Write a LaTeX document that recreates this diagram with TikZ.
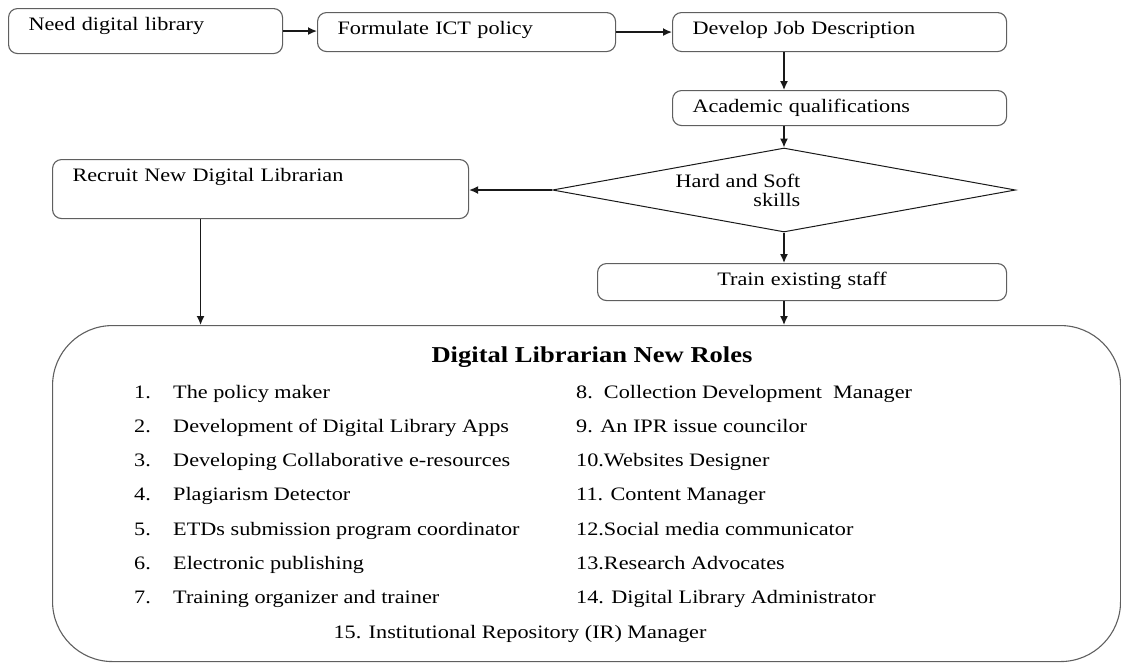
\documentclass[tikz,border=0pt]{standalone}
\usepackage{fontspec}
\setmainfont[FakeStretch=1.17]{Liberation Serif}
\usepackage{tikz}
\usetikzlibrary{shapes.geometric,arrows.meta,calc}
\definecolor{boxgray}{RGB}{95,95,95}
\definecolor{inkblack}{RGB}{25,25,25}

\tikzset{
  flowbox/.style={draw=boxgray, line width=1.1pt, rounded corners=9pt, anchor=north west,
    align=left, inner xsep=20pt, inner ysep=9pt, text height=13pt,
    font=\fontsize{19}{21}\selectfont},
  flowarrow/.style={draw=inkblack, line width=1.4pt, -{Latex[length=9pt,width=8pt]}},
  roleitem/.style={anchor=base west, inner sep=0pt, font=\fontsize{19}{21}\selectfont},
}

\begin{document}
\begin{tikzpicture}[x=1pt, y=-1pt]
    \useasboundingbox (0,0) rectangle (1121,662);

    % Top row
    \node[flowbox, text width=234pt, text depth=14pt] (need) at (8,8) {Need digital library};
    \node[flowbox, text width=258pt, text depth=8pt] (policy) at (317,12) {Formulate ICT policy};
    \node[flowbox, text width=294pt, text depth=8pt] (jobdesc) at (672,12) {Develop Job Description};
    \node[flowbox, text width=294pt, text depth=4pt] (quals) at (672,90) {Academic qualifications};

    % Decision
    \node[draw=inkblack, line width=1pt, diamond, aspect=5.5, minimum width=463pt,
          minimum height=84pt, inner sep=0pt,
          label={[align=right, xshift=-46pt, font=\fontsize{19}{19}\selectfont]center:{Hard and Soft\\skills}}]
          (skills) at (784,190) {};

    % Two ways to fill the post
    \node[flowbox, text width=376pt, text depth=28pt] (recruit) at (52,159) {Recruit New Digital Librarian};
    \node[flowbox, align=center, text width=369pt, text depth=6pt] (train) at (597,263) {Train existing staff};

    % Roles box
    \node[draw=boxgray, line width=1.1pt, rounded corners=60pt, anchor=north west,
          minimum width=1068pt, minimum height=336pt, inner sep=0pt] (roles) at (52,325) {};
    \node[anchor=base, font=\fontsize{22.7}{24}\selectfont\bfseries] (title) at (592,362) {Digital Librarian New Roles};

    \foreach \num/\role [count=\i] in {1/The policy maker, 2/Development of Digital Library Apps,
        3/Developing Collaborative e-resources, 4/Plagiarism Detector,
        5/ETDs submission program coordinator, 6/Electronic publishing,
        7/Training organizer and trainer} {
        \node[roleitem] (num\i) at (134,{363.7+34.3*\i}) {\num.};
        \node[roleitem] (left\i) at (173,{363.7+34.3*\i}) {\role};
    }
    \foreach \role [count=\i] in {8.~~Collection Development~~Manager, 9. An IPR issue councilor,
        10.Websites Designer, 11. Content Manager, 12.Social media communicator,
        13.Research Advocates, 14. Digital Library Administrator} {
        \node[roleitem] (right\i) at (576,{363.7+34.3*\i}) {\role};
    }
    \node[roleitem, anchor=base] (last) at (520,638) {15. Institutional Repository (IR) Manager};

    % Arrows
    \draw[flowarrow] (need.east) -- (need.east -| policy.west);
    \draw[flowarrow] (policy.east) -- (jobdesc.west);
    \draw[flowarrow] (jobdesc.south -| skills.north) -- (quals.north -| skills.north);
    \draw[flowarrow] (quals.south -| skills.north) -- (skills.north);
    \draw[flowarrow] (skills.west) -- (skills.west -| recruit.east);
    \draw[flowarrow] (skills.south) -- (skills.south |- train.north);
    \draw[flowarrow] (train.south -| skills.south) -- (skills.south |- roles.north);
    \draw[flowarrow] ([xshift=-60pt]recruit.south) -- ([xshift=-60pt]recruit.south |- roles.north);
\end{tikzpicture}
\end{document}
